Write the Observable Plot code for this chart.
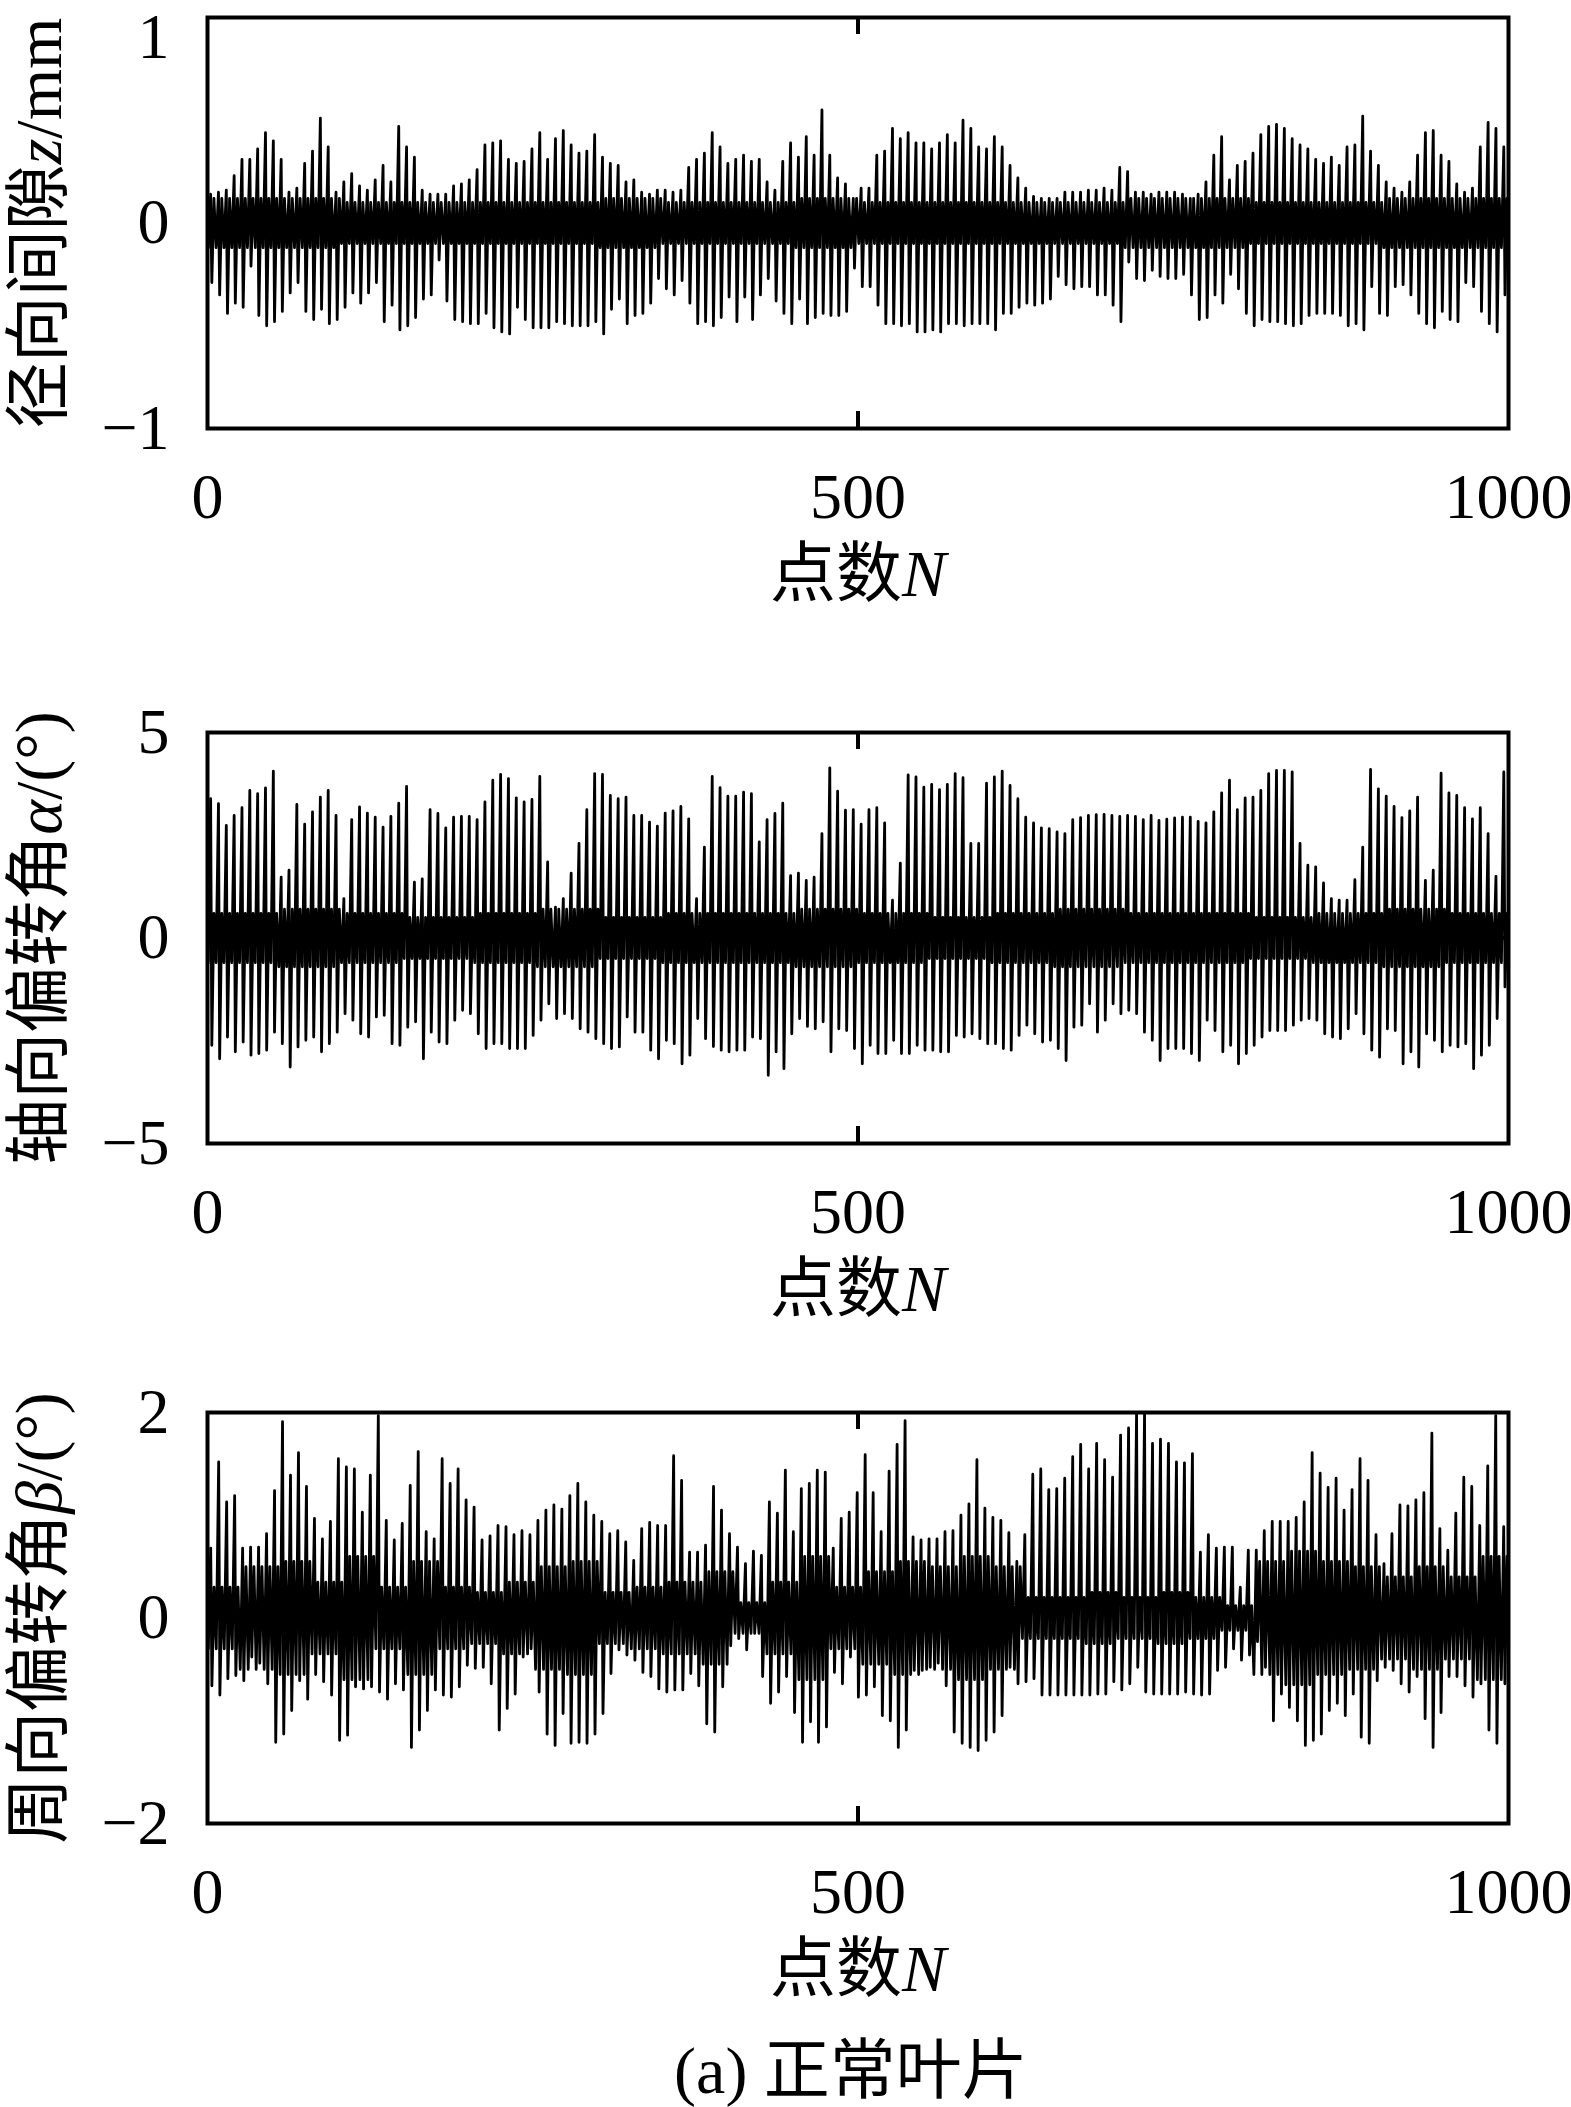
<!DOCTYPE html>
<html>
<head>
<meta charset="utf-8">
<script src="https://cdn.jsdelivr.net/npm/d3@7"></script>
<script src="https://cdn.jsdelivr.net/npm/@observablehq/plot@0.6"></script>
<style>
  html, body { margin: 0; padding: 0; background: #fff; }
  #wrap { position: relative; width: 1571px; height: 2107px; background: #fff; overflow: hidden; }
  #wrap svg { position: absolute; left: 0; overflow: visible; }
  #caption { position: absolute; left: 351px; width: 1000px; top: 2028px; text-align: center;
    font-family: "Liberation Serif", "Times New Roman", "Noto Sans CJK SC", serif; font-size: 66px; line-height: 86px; color: #000; }
</style>
</head>
<body>
<div id="wrap"><div id="caption">(a) 正常叶片</div></div>
<script>
// ---------- axis text ----------
const xTicks = [0, 500, 1000];
const xLabel = "点数N";
const yLabels = ["径向间隙z/mm", "轴向偏转角α/(°)", "周向偏转角β/(°)"];
const yTicks1 = [-1, 0, 1];
const yTicks2 = [-5, 0, 5];
const yTicks3 = [-2, 0, 2];
const yDomain1 = [-1, 1];
const yDomain2 = [-5, 5];
const yDomain3 = [-2, 2];

// ---------- panel 1: radial gap z (mm) ----------
const p1Peaks = [0.14,0.15,0.16,0.23,0.31,0.31,0.36,0.44,0.40,0.31,0.15,0.17,0.29,0.35,0.51,0.37,0.15,0.20,0.24,0.18,0.16,0.21,0.28,0.20,0.47,0.37,0.32,0.16,0.14,0.14,0.14,0.18,0.19,0.21,0.26,0.38,0.39,0.40,0.31,0.29,0.30,0.36,0.44,0.31,0.41,0.45,0.38,0.34,0.35,0.43,0.32,0.29,0.28,0.20,0.21,0.15,0.14,0.16,0.16,0.15,
  0.16,0.27,0.31,0.34,0.44,0.37,0.29,0.31,0.33,0.30,0.31,0.20,0.16,0.30,0.39,0.32,0.42,0.33,0.55,0.33,0.22,0.19,0.12,0.17,0.17,0.33,0.35,0.46,0.41,0.44,0.39,0.39,0.36,0.39,0.43,0.39,0.50,0.46,0.37,0.36,0.42,0.37,0.28,0.22,0.17,0.13,0.12,0.12,0.12,0.15,0.15,0.15,0.16,0.16,0.17,
  0.16,0.27,0.25,0.15,0.15,0.14,0.15,0.15,0.15,0.14,0.12,0.14,0.20,0.33,0.42,0.21,0.28,0.30,0.34,0.43,0.47,0.48,0.46,0.41,0.38,0.36,0.31,0.29,0.32,0.28,0.37,0.38,0.52,0.35,0.28,0.20,0.17,0.15,0.20,0.33,0.44,0.45,0.33,0.30,0.19,0.15,0.17,0.37,0.49,0.46,0.37];
const p1Troughs = [-0.29,-0.35,-0.44,-0.39,-0.41,-0.21,-0.45,-0.50,-0.48,-0.43,-0.34,-0.29,-0.43,-0.47,-0.42,-0.49,-0.47,-0.41,-0.34,-0.39,-0.34,-0.29,-0.48,-0.40,-0.52,-0.50,-0.46,-0.37,-0.35,-0.18,-0.38,-0.47,-0.48,-0.49,-0.49,-0.44,-0.51,-0.53,-0.54,-0.41,-0.47,-0.51,-0.51,-0.51,-0.48,-0.49,-0.50,-0.50,-0.50,-0.48,-0.54,-0.42,-0.37,-0.49,-0.45,-0.44,-0.39,-0.27,-0.32,-0.35,
  -0.28,-0.39,-0.49,-0.48,-0.50,-0.46,-0.36,-0.48,-0.36,-0.47,-0.35,-0.27,-0.38,-0.44,-0.49,-0.37,-0.49,-0.46,-0.44,-0.45,-0.45,-0.43,-0.22,-0.31,-0.31,-0.40,-0.49,-0.49,-0.50,-0.49,-0.53,-0.53,-0.52,-0.53,-0.49,-0.49,-0.50,-0.49,-0.49,-0.49,-0.52,-0.44,-0.44,-0.41,-0.39,-0.40,-0.39,-0.37,-0.26,-0.30,-0.32,-0.31,-0.31,-0.35,-0.35,
  -0.40,-0.48,-0.19,-0.27,-0.28,-0.23,-0.26,-0.27,-0.27,-0.25,-0.35,-0.47,-0.46,-0.35,-0.39,-0.25,-0.32,-0.44,-0.50,-0.47,-0.48,-0.48,-0.49,-0.50,-0.49,-0.45,-0.44,-0.44,-0.44,-0.45,-0.50,-0.49,-0.52,-0.31,-0.44,-0.45,-0.31,-0.30,-0.35,-0.44,-0.49,-0.51,-0.43,-0.47,-0.48,-0.29,-0.31,-0.43,-0.49,-0.53,-0.35];
const p1Band = [0.12,0.12,0.1,0.1,0.1,0.1,0.12,0.1,0.1,0.12,0.1,0.1,0.1,0.1,0.12,0.12,0.1,0.1,0.12,0.12];

// ---------- panel 2: axial deflection angle alpha (deg) ----------
const p2Peaks = [3.39,3.27,2.74,2.98,3.17,3.59,3.51,3.65,4.06,1.48,1.65,3.25,2.77,3.07,3.43,3.59,2.98,0.96,2.88,3.19,3.04,2.94,2.70,2.96,3.28,3.69,1.36,1.44,3.12,3.03,2.68,2.94,2.96,2.96,2.88,3.31,3.84,3.98,3.88,3.41,3.31,3.37,3.93,1.85,0.75,0.96,1.58,2.30,3.12,4.00,3.98,3.47,3.39,3.43,2.98,2.98,2.82,
  2.72,3.04,3.09,3.20,2.90,0.96,2.21,3.93,3.66,3.45,3.45,3.55,3.51,2.34,2.88,3.03,3.28,1.52,1.58,1.40,1.48,2.54,4.14,3.57,3.11,3.12,2.77,3.12,3.17,2.80,0.92,1.82,3.97,3.92,3.67,3.74,3.61,3.74,4.00,3.90,2.30,2.30,3.77,3.92,4.06,3.71,3.39,2.94,2.80,2.68,2.66,2.58,2.54,2.88,2.93,2.98,3.00,
  3.01,2.98,2.96,2.98,2.96,2.88,2.98,2.86,2.89,2.92,2.94,2.94,2.84,2.80,3.07,3.53,3.84,3.12,3.41,3.43,3.59,4.00,4.08,4.08,4.04,2.30,1.77,1.73,1.34,0.96,0.92,0.92,1.42,2.21,4.10,3.63,3.45,3.20,2.93,3.09,3.43,1.40,1.65,4.01,3.53,3.47,3.17,2.90,3.17,2.54,1.50,4.04];
const p2Troughs = [-2.61,-2.94,-2.41,-2.77,-2.53,-2.85,-2.81,-2.73,-2.29,-2.57,-3.14,-2.65,-2.49,-2.41,-2.77,-2.57,-2.29,-1.84,-2.00,-2.33,-2.41,-1.92,-1.88,-2.57,-2.61,-2.17,-2.04,-2.94,-2.29,-2.53,-2.57,-2.00,-1.76,-1.84,-2.33,-2.69,-2.57,-2.57,-2.69,-2.69,-2.69,-2.37,-2.00,-1.60,-1.96,-1.84,-1.96,-2.21,-2.29,-2.45,-2.57,-2.69,-2.65,-1.92,-2.29,-2.29,-2.73,
  -2.94,-2.49,-2.57,-3.06,-2.85,-1.96,-2.45,-2.64,-2.73,-2.77,-2.73,-2.73,-2.41,-2.45,-3.34,-2.77,-3.18,-2.33,-1.96,-2.15,-2.21,-2.04,-2.77,-2.21,-2.25,-2.69,-3.06,-2.61,-2.81,-2.81,-2.49,-2.81,-2.81,-2.61,-2.73,-2.73,-2.77,-2.77,-2.37,-2.41,-2.33,-2.45,-2.57,-2.57,-2.69,-2.73,-2.37,-2.12,-2.33,-2.53,-2.49,-2.69,-2.98,-2.17,-2.12,-1.60,-2.29,
  -2.00,-1.60,-1.84,-1.76,-1.84,-2.29,-2.49,-2.98,-2.69,-2.69,-2.69,-2.81,-2.98,-2.00,-2.25,-2.77,-2.61,-3.06,-2.81,-2.61,-2.41,-2.25,-2.25,-2.25,-2.12,-2.00,-1.96,-2.00,-2.33,-2.41,-2.45,-2.21,-1.84,-2.33,-2.73,-2.90,-2.21,-2.25,-3.06,-2.77,-3.14,-2.33,-2.49,-2.77,-2.61,-2.65,-2.57,-3.18,-2.85,-2.61,-1.96,-1.19];
const p2Band = [0.6,0.7,0.6,0.5,0.6,0.7,0.5,0.6,0.6,0.7,0.6,0.5,0.6,0.7,0.6,0.6,0.5,0.6,0.7,0.6];

// ---------- panel 3: circumferential deflection angle beta (deg) ----------
const p3Peaks = [0.68,1.52,1.13,1.19,0.68,0.69,0.69,0.82,1.24,1.91,1.39,1.61,1.28,0.97,0.77,0.94,1.55,1.47,1.45,1.03,1.39,1.97,0.95,0.76,0.92,1.29,1.62,0.84,0.77,1.55,1.31,1.45,1.15,1.08,0.76,0.80,0.90,0.89,0.81,0.85,0.81,0.95,1.05,1.10,1.06,1.19,1.31,1.13,1.00,0.94,0.82,0.85,0.74,0.56,0.87,0.93,0.90,
  0.90,1.58,1.34,0.64,0.64,0.71,1.28,1.05,0.82,0.69,0.53,0.65,0.61,1.13,1.02,1.44,0.84,1.26,1.31,1.44,1.42,0.68,0.97,1.03,1.22,1.59,1.22,0.84,1.43,1.69,1.92,0.79,0.76,0.77,0.77,0.84,0.85,1.00,1.11,1.54,1.07,0.98,0.95,0.83,0.55,0.81,1.40,1.45,1.25,1.26,1.36,1.57,1.69,1.45,1.70,1.54,
  1.37,1.78,1.85,1.99,1.99,1.70,1.74,1.70,1.52,1.51,1.60,0.64,0.81,0.68,0.69,0.69,0.30,0.66,0.66,0.85,0.94,0.94,0.94,0.98,1.13,1.61,1.41,1.27,1.36,1.05,1.25,1.55,1.34,0.81,0.53,0.82,1.10,1.09,1.15,1.22,1.80,0.87,0.66,1.02,1.37,1.28,0.90,1.48,1.97,0.89];
const p3Troughs = [-0.66,-0.75,-0.59,-0.56,-0.61,-0.38,-0.44,-0.64,-1.21,-1.13,-0.90,-0.61,-0.79,-0.55,-0.62,-0.75,-1.19,-1.14,-0.67,-0.69,-0.67,-0.72,-0.79,-0.64,-0.70,-1.26,-1.09,-0.90,-0.70,-0.75,-0.77,-0.67,-0.46,-0.49,-0.48,-0.64,-1.09,-0.88,-0.74,-0.38,-0.30,-0.72,-1.13,-1.24,-0.93,-1.22,-1.21,-1.22,-1.13,-0.93,-0.54,-0.31,-0.36,-0.41,-0.53,-0.57,-0.69,
  -0.72,-0.70,-0.70,-0.54,-0.66,-1.03,-1.11,-0.67,-0.27,-0.20,-0.31,-0.15,-0.57,-0.83,-0.72,-0.57,-0.92,-1.21,-1.01,-1.21,-1.06,-0.53,-0.64,-0.38,-0.77,-0.75,-0.67,-0.95,-1.00,-1.26,-1.09,-0.51,-0.51,-0.48,-0.44,-0.66,-1.11,-1.22,-1.26,-1.29,-1.19,-1.11,-0.95,-0.48,-0.64,-0.62,-0.59,-0.75,-0.75,-0.75,-0.75,-0.75,-0.75,-0.75,-0.74,-0.74,
  -0.62,-0.70,-0.64,-0.48,-0.72,-0.74,-0.74,-0.74,-0.74,-0.72,-0.74,-0.75,-0.74,-0.51,-0.48,-0.30,-0.41,-0.36,-0.23,-0.48,-1.00,-0.74,-0.87,-1.00,-1.24,-1.19,-1.13,-0.90,-0.83,-0.95,-0.74,-1.16,-1.22,-0.61,-0.48,-0.51,-0.64,-0.72,-0.57,-0.98,-1.26,-0.92,-0.57,-0.57,-0.66,-0.77,-0.64,-1.09,-1.22,-0.64];
const p3Band = [0.3,0.5,0.55,0.35,0.6,0.3,0.55,0.3,0.25,0.35,0.5,0.55,0.25,0.3,0.35,0.45,0.15,0.35,0.6,0.3,0.45,0.55,0.5,0.6,0.5,0.2,0.2,0.25,0.2,0.25,0.2,0.12,0.55,0.65,0.55,0.5,0.4,0.5,0.4,0.6];

// ---------- sample sequence per cycle: band low -> peak -> trough -> band high ----------
function series(peaks, troughs, band) {
  const n = Math.min(peaks.length, troughs.length);
  const P = 1000 / n;
  const pts = [{x: 0, y: 0}];
  for (let i = 0; i < n; i++) {
    const x0 = (i + 0.1) * P;
    const b = band[Math.min(band.length - 1, Math.floor(x0 / (1000 / band.length)))];
    pts.push({x: x0, y: -b});
    pts.push({x: x0 + 0.3 * P, y: peaks[i]});
    pts.push({x: x0 + 0.45 * P, y: troughs[i]});
    pts.push({x: x0 + 0.72 * P, y: b});
  }
  return pts;
}

const FONT = '"Liberation Serif", "Times New Roman", "Noto Sans CJK SC", serif';
const W = 1571, ML = 207, MR = 63, INNER_H = 411, MB = 185, TICK = 17;
const INNER_W = W - ML - MR;
const fmt = d => (d < 0 ? "\u2212" : "") + String(Math.abs(d));

function panel(pts, yDomain, yTicks, yLabel, marginTop, topDy) {
  const lowTicks = yTicks.slice(0, -1);
  const topTick = yTicks.slice(-1);
  return Plot.plot({
    width: W,
    height: marginTop + INNER_H + MB,
    marginLeft: ML, marginRight: MR, marginTop, marginBottom: MB,
    x: {domain: [0, 1000]},
    y: {domain: yDomain},
    style: {fontFamily: FONT, fontSize: "66px", color: "#000", background: "transparent", overflow: "visible"},
    marks: [
      Plot.line(pts, {x: "x", y: "y", stroke: "#000", strokeWidth: 2.8, clip: true}),
      Plot.frame({stroke: "#000", strokeWidth: 4}),
      Plot.ruleX([500], {stroke: "#000", strokeWidth: 4, insetBottom: INNER_H - TICK}),
      Plot.ruleX([500], {stroke: "#000", strokeWidth: 4, insetTop: INNER_H - TICK}),
      Plot.ruleY([0], {stroke: "#000", strokeWidth: 4, insetRight: INNER_W - TICK}),
      Plot.ruleY([0], {stroke: "#000", strokeWidth: 4, insetLeft: INNER_W - TICK}),
      Plot.axisX({ticks: xTicks, tickSize: 0, tickPadding: 44, label: null, fontSize: 64, tickFormat: fmt}),
      Plot.axisY({ticks: lowTicks, tickSize: 0, tickPadding: 38, label: null, fontSize: 64, tickFormat: fmt}),
      Plot.axisY({ticks: topTick, tickSize: 0, tickPadding: 38, label: null, fontSize: 64, tickFormat: fmt, dy: topDy}),
      Plot.text([xLabel], {frameAnchor: "bottom", dy: 146, lineAnchor: "middle", textAnchor: "middle", text: d => d, fontSize: 66}),
      Plot.text([yLabel], {frameAnchor: "left", dx: -168, rotate: -90, lineAnchor: "middle", textAnchor: "middle", text: d => d, fontSize: 66})
    ]
  });
}

function italicize(svg) {
  svg.querySelectorAll("text").forEach(t => {
    if (t.children.length) return;
    const s = t.textContent;
    const m = s.match(/[zαβN]/);
    if (!m || /[0-9]/.test(s)) return;
    const i = m.index;
    t.textContent = "";
    const parts = [[s.slice(0, i), "normal"], [s[i], "italic"], [s.slice(i + 1), "normal"]];
    for (const [txt, st] of parts) {
      if (!txt) continue;
      const ts = document.createElementNS("http://www.w3.org/2000/svg", "tspan");
      ts.setAttribute("font-style", st);
      ts.textContent = txt;
      t.appendChild(ts);
    }
  });
}

const wrap = document.getElementById("wrap");
const specs = [
  {pts: series(p1Peaks, p1Troughs, p1Band), dom: yDomain1, ticks: yTicks1, label: yLabels[0], top: 0, mt: 17, topDy: 20},
  {pts: series(p2Peaks, p2Troughs, p2Band), dom: yDomain2, ticks: yTicks2, label: yLabels[1], top: 700, mt: 32, topDy: 0},
  {pts: series(p3Peaks, p3Troughs, p3Band), dom: yDomain3, ticks: yTicks3, label: yLabels[2], top: 1380, mt: 32, topDy: 0}
];
for (const s of specs) {
  const svg = panel(s.pts, s.dom, s.ticks, s.label, s.mt, s.topDy);
  svg.style.top = s.top + "px";
  italicize(svg);
  wrap.appendChild(svg);
}
</script>
</body>
</html>
